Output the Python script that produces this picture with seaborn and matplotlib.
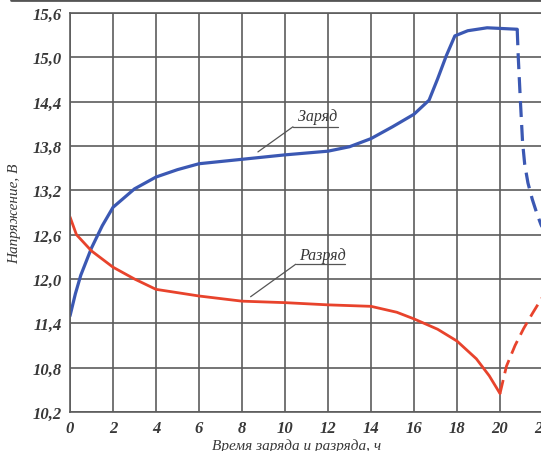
import matplotlib
matplotlib.use("Agg")
import matplotlib.pyplot as plt
import seaborn as sns
from matplotlib.lines import Line2D

# заряд (сплошная часть)
charge_t = [0, 0.25, 0.5, 1, 1.5, 2, 3, 4, 5, 6, 8, 10, 12, 13, 14, 15, 16, 16.7,
            17.1, 17.5, 17.9, 18.5, 19.4, 20.8]
charge_v = [11.5, 11.8, 12.05, 12.42, 12.72, 12.97, 13.22, 13.38, 13.48, 13.56,
            13.62, 13.68, 13.73, 13.79, 13.9, 14.06, 14.23, 14.42,
            14.71, 15.02, 15.29, 15.36, 15.4, 15.38]
# заряд (пунктир после отключения)
charge_tail_t = [20.8, 20.85, 20.95, 21.05, 21.15, 21.3, 21.5, 21.7, 21.9, 22.2]
charge_tail_v = [15.38, 15.0, 14.4, 13.85, 13.55, 13.3, 13.08, 12.9, 12.74, 12.55]

# разряд
discharge_t = [0, 0.3, 1, 2, 3, 4, 6, 8, 10, 12, 14, 15.2, 16, 17.1, 18, 18.9, 19.5, 20]
discharge_v = [12.84, 12.6, 12.38, 12.16, 12.0, 11.86, 11.77, 11.7, 11.68, 11.65,
               11.63, 11.55, 11.46, 11.32, 11.16, 10.92, 10.69, 10.45]
discharge_tail_t = [20, 20.3, 20.7, 21.1, 21.5, 21.9, 22.2]
discharge_tail_v = [10.45, 10.82, 11.1, 11.33, 11.53, 11.72, 11.85]

x_ticks = list(range(0, 24, 2))
y_ticks = [10.2, 10.8, 11.4, 12.0, 12.6, 13.2, 13.8, 14.4, 15.0, 15.6]

blue = "#3b58b3"
red = "#e8432c"
grid_c = "#5c5c5c"
txt_c = "#383838"
serif = ["Liberation Serif", "DejaVu Serif"]

sns.set_style("white")
fig = plt.figure(figsize=(5.41, 4.52), dpi=100)
ax = fig.add_axes([70 / 541, 39 / 452, 516 / 541, 399 / 452])

sns.lineplot(x=charge_t, y=charge_v, ax=ax, color=blue, linewidth=2.3)
sns.lineplot(x=charge_tail_t, y=charge_tail_v, ax=ax, color=blue, linewidth=2.3,
             linestyle=(0, (5, 2.5)))
sns.lineplot(x=discharge_t, y=discharge_v, ax=ax, color=red, linewidth=2.0)
sns.lineplot(x=discharge_tail_t, y=discharge_tail_v, ax=ax, color=red, linewidth=2.0,
             linestyle=(0, (5, 2.5)))

ax.set_xlim(0, 24)
ax.set_ylim(10.2, 15.6)
ax.set_xticks(x_ticks)
ax.set_yticks(y_ticks)
ax.set_xticklabels([str(t) for t in x_ticks])
ax.set_yticklabels([f"{v:.1f}".replace(".", ",") for v in y_ticks])
ax.grid(True, color=grid_c, linewidth=1.2)
ax.set_axisbelow(True)
for s in ax.spines.values():
    s.set_color(grid_c)
    s.set_linewidth(1.2)
ax.tick_params(length=0, pad=6, colors=txt_c)
for lab in ax.get_xticklabels() + ax.get_yticklabels():
    lab.set_family(serif)
    lab.set_style("italic")
    lab.set_fontweight("bold")
    lab.set_fontsize(12)
ax.set_xlabel("")
ax.set_ylabel("Напряжение, В", family=serif, style="italic", fontsize=11,
              color=txt_c, labelpad=8)
fig.text(297 / 541, 1 - 446 / 452, "Время заряда и разряда, ч", ha="center", va="center",
         family=serif, style="italic", fontsize=11, color=txt_c)

# подписи кривых с выносками
ax.text(11.5, 14.2, "Заряд", family=serif, style="italic", fontsize=11.5,
        color=txt_c, ha="center", va="center")
ax.plot([10.37, 12.47], [14.06, 14.06], color="#555555", linewidth=0.9)
ax.plot([10.37, 8.74], [14.06, 13.72], color="#555555", linewidth=0.9)
ax.text(11.72, 12.32, "Разряд", family=serif, style="italic", fontsize=11.5,
        color=txt_c, ha="center", va="center")
ax.plot([10.5, 12.8], [12.2, 12.2], color="#555555", linewidth=0.9)
ax.plot([10.5, 8.4], [12.2, 11.76], color="#555555", linewidth=0.9)

fig.add_artist(Line2D([0.02, 1], [0.997, 0.997], color="#555555", linewidth=2))

fig.savefig("out.png", dpi=100)
